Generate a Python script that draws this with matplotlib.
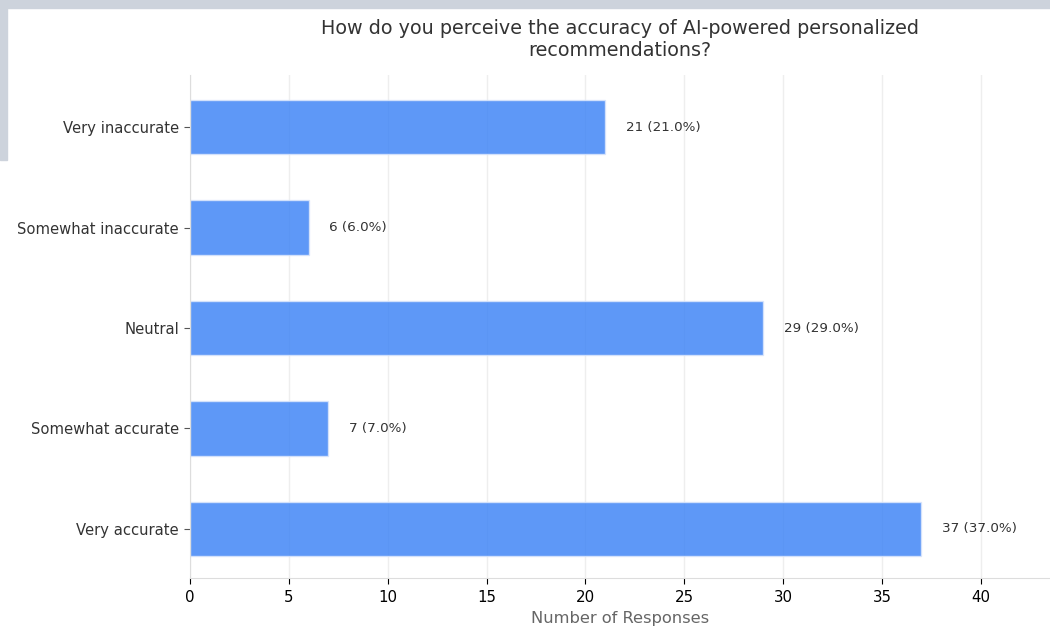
import matplotlib
matplotlib.use("Agg")
import matplotlib.pyplot as plt
from matplotlib.patches import Rectangle

plt.rcParams["font.family"] = ["DejaVu Sans"]

categories = ["Very inaccurate", "Somewhat inaccurate", "Neutral", "Somewhat accurate", "Very accurate"]
counts = [21, 6, 29, 7, 37]
total = 100

W, H = 1050, 627
fig = plt.figure(figsize=(W / 100, H / 100), dpi=100)
fig.patch.set_facecolor("white")

# screenshot frame artifact
frame_col = "#cdd3dc"
fig.patches.append(Rectangle((0, 1 - 8 / H), 1, 8 / H, transform=fig.transFigure, color=frame_col, zorder=0))
fig.patches.append(Rectangle((0, 1 - 160 / H), 7 / W, 160 / H, transform=fig.transFigure, color=frame_col, zorder=0))

ax = fig.add_axes([190 / W, 1 - 578 / H, 1 - 190 / W, (578 - 75) / H])
ax.set_facecolor("none")

y = list(range(len(categories)))
ax.barh(y, counts, height=0.54, color="#3b82f6", alpha=0.82, edgecolor="#dbe6fb", linewidth=1, zorder=2)
for yi, c in zip(y, counts):
    ax.text(c + 1.05, yi, f"{c} ({c / total * 100:.1f}%)", va="center", ha="left", fontsize=9.7, color="#333333")

ax.set_yticks(y)
ax.set_yticklabels(categories, fontsize=10.6, color="#333333")
ax.set_ylim(4.49, -0.52)
ax.set_xlim(0, 43.5)
ax.set_xticks(range(0, 45, 5))
ax.tick_params(axis="x", labelsize=10.8, colors="black", length=4, pad=5)
ax.tick_params(axis="y", length=4, color="#555555", pad=4)
ax.grid(axis="x", color="#e8e8e8", linewidth=1, alpha=0.7, zorder=0)
ax.set_axisbelow(True)
for s in ["top", "right"]:
    ax.spines[s].set_visible(False)
for s in ["left", "bottom"]:
    ax.spines[s].set_color("#dddddd")
ax.set_xlabel("Number of Responses", fontsize=11.7, color="#666666", labelpad=4)
ax.set_title("How do you perceive the accuracy of AI-powered personalized\nrecommendations?",
             fontsize=13.8, color="#333333", pad=14, linespacing=1.17)

fig.savefig("out.png", dpi=100)
